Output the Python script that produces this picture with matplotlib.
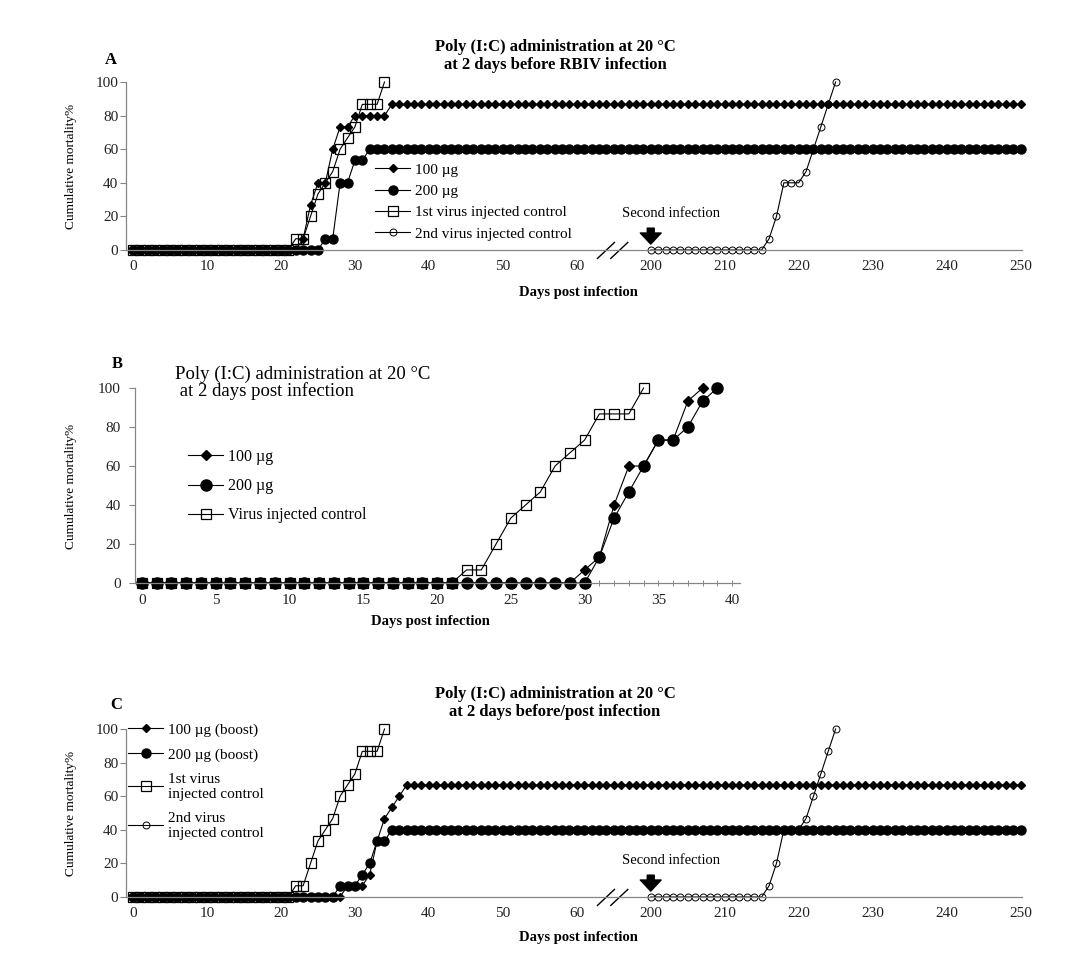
import numpy as np
import matplotlib
matplotlib.use('Agg')
import matplotlib.pyplot as plt

plt.rcParams['font.family'] = ['Liberation Serif', 'DejaVu Serif']

# ---- data (cumulative mortality %) ----
# panels A and C: days 0-69, then 200-250 after the axis break
days_long = list(range(0, 70)) + list(range(200, 251))
days_ctrl1 = list(range(0, 35))
days_ctrl2 = list(range(200, 226))

a_100 = [0] * 23 + [6.7, 26.7, 40, 40, 60, 73.3, 73.3, 80, 80, 80, 80, 80] + [86.7] * 86
a_200 = [0] * 26 + [6.7, 6.7, 40, 40, 53.3, 53.3] + [60] * 89
ctrl1 = [0] * 22 + [6.7, 6.7, 20, 33.3, 40, 46.7, 60, 66.7, 73.3, 86.7, 86.7, 86.7, 100]
ctrl2 = [0] * 16 + [6.7, 20, 40, 40, 40, 46.7, 60, 73.3, 86.7, 100]

# panel B: days 0-40
b_days_100 = list(range(0, 39))
b_days_200 = list(range(0, 40))
b_100 = [0] * 30 + [6.7, 13.3, 40, 60, 60, 73.3, 73.3, 93.3, 100]
b_200 = [0] * 31 + [13.3, 33.3, 46.7, 60, 73.3, 73.3, 80, 93.3, 100]
b_ctrl = ctrl1

c_100 = [0] * 29 + [6.7, 6.7, 6.7, 13.3, 33.3, 46.7, 53.3, 60] + [66.7] * 84
c_200 = [0] * 28 + [6.7, 6.7, 6.7, 13.3, 20, 33.3, 33.3] + [40] * 86

long_ticks = [0, 10, 20, 30, 40, 50, 60, 200, 210, 220, 230, 240, 250]


def to_pos(days):
    # broken axis: days after the break are shifted down by 130
    d = np.asarray(days)
    return np.where(d < 70, d, d - 130)


W, H = 1078, 956
fig = plt.figure(figsize=(W / 100, H / 100), dpi=100)


def box(l, t, r, b):
    return [l / W, 1 - b / H, (r - l) / W, (b - t) / H]


axA = fig.add_axes(box(126, 82, 1022, 250))
axB = fig.add_axes(box(134.6, 388, 739.5, 583))
axC = fig.add_axes(box(126, 729, 1022, 897))

grey = '#868686'
for ax in (axA, axB, axC):
    for s in ['top', 'right']:
        ax.spines[s].set_visible(False)
    for s in ['left', 'bottom']:
        ax.spines[s].set_color(grey)
        ax.spines[s].set_linewidth(0.9)
    ax.set_ylim(0, 100)
    ax.set_yticks(range(0, 101, 20))
    ax.tick_params(axis='y', length=4, width=0.8, color=grey, pad=1.5, labelsize=11, labelcolor='#222222')
    ax.tick_params(axis='x', labelsize=11, labelcolor='#222222')

line_kw = dict(color='black', lw=0.8, clip_on=False)


def long_panel(ax, s100, s200, lab100, lab200, lab1, lab2):
    ax.plot(to_pos(days_long), s100, marker='D', ms=4.2, mfc='black', mec='black', label=lab100, **line_kw)
    ax.plot(to_pos(days_long), s200, marker='o', ms=6.5, mfc='black', mec='black', label=lab200, **line_kw)
    ax.plot(to_pos(days_ctrl1), ctrl1, marker='s', ms=6.5, mfc='none', mec='black', mew=0.9, label=lab1, **line_kw)
    ax.plot(to_pos(days_ctrl2), ctrl2, marker='o', ms=5, mfc='none', mec='black', mew=0.7, label=lab2, **line_kw)
    ax.set_xlim(-0.95, 120.2)
    ax.set_xticks(to_pos(long_ticks))
    ax.set_xticklabels([str(t) for t in long_ticks])
    ax.tick_params(axis='x', length=0, pad=7)
    # axis break marks
    ax.plot([62.8, 65.1], [-5, 4.5], color='black', lw=1.0, clip_on=False)
    ax.plot([64.6, 66.9], [-5, 4.5], color='black', lw=1.0, clip_on=False)
    # second infection marker
    ax.annotate('', xy=(70, 3.5), xytext=(70, 13),
                arrowprops=dict(facecolor='black', edgecolor='black', width=5, headwidth=15, headlength=8))
    ax.text(72.7, 21.5, 'Second infection', ha='center', va='center', fontsize=10.5)


long_panel(axA, a_100, a_200, '100 µg', '200 µg', '1st virus injected control', '2nd virus injected control')
axA.legend(loc='upper left', bbox_to_anchor=((375 - 126) / 896, (250 - 163) / 168), frameon=False,
           fontsize=11, handlelength=2.3, handletextpad=0.35, labelspacing=0.5, borderpad=0, borderaxespad=0,
           numpoints=1)

long_panel(axC, c_100, c_200, '100 µg (boost)', '200 µg (boost)', '1st virus\ninjected control',
           '2nd virus\ninjected control')
axC.legend(loc='upper left', bbox_to_anchor=((128 - 126) / 896, (897 - 723) / 168), frameon=False,
           fontsize=11, handlelength=2.3, handletextpad=0.3, labelspacing=0.72, borderpad=0,
           borderaxespad=0, numpoints=1)

# panel B
axB.plot(b_days_100, b_100, marker='D', ms=4.8, mfc='black', mec='black', label='100 µg', **line_kw)
axB.plot(b_days_200, b_200, marker='o', ms=8, mfc='black', mec='black', label='200 µg', **line_kw)
axB.plot(days_ctrl1, b_ctrl, marker='s', ms=7.5, mfc='none', mec='black', mew=0.9,
         label='Virus injected control', **line_kw)
axB.set_xlim(-0.5, 40.5)
axB.set_xticks(range(0, 41, 5))
axB.set_xticks(range(0, 41), minor=True)
axB.tick_params(axis='x', which='both', direction='inout', length=4, width=0.7, color=grey, pad=6)
axB.tick_params(axis='y', pad=6)
axB.legend(loc='upper left', bbox_to_anchor=((188 - 134.6) / 605, (583 - 449) / 195), frameon=False,
           fontsize=11.5, handlelength=2.2, handletextpad=0.3, labelspacing=0.82, borderpad=0, borderaxespad=0,
           numpoints=1)

# titles, panel letters, axis labels
fig.text(555 / W, 1 - 56 / H, 'Poly (I:C) administration at 20 °C\nat 2 days before RBIV infection',
         ha='center', va='center', fontsize=12, fontweight='bold', linespacing=1.1)
fig.text(175 / W, 1 - 383 / H, 'Poly (I:C) administration at 20 °C\n at 2 days post infection',
         ha='left', va='center', fontsize=13.5, linespacing=0.95)
fig.text(555 / W, 1 - 703 / H, 'Poly (I:C) administration at 20 °C\nat 2 days before/post infection',
         ha='center', va='center', fontsize=12, fontweight='bold', linespacing=1.1)

fig.text(111 / W, 1 - 60 / H, 'A', ha='center', va='center', fontsize=12, fontweight='bold')
fig.text(117 / W, 1 - 364 / H, 'B', ha='center', va='center', fontsize=12, fontweight='bold')
fig.text(116 / W, 1 - 705 / H, 'C', ha='center', va='center', fontsize=12, fontweight='bold')

for yc in (166, 486, 813):
    fig.text(71 / W, 1 - yc / H, 'Cumulative mortality%', rotation=90, ha='center', va='center', fontsize=9.5)
for xc, yc in ((578, 292), (430, 621), (578, 938)):
    fig.text(xc / W, 1 - yc / H, 'Days post infection', ha='center', va='center', fontsize=10.5,
             fontweight='bold')

plt.savefig('out.png', dpi=100)
